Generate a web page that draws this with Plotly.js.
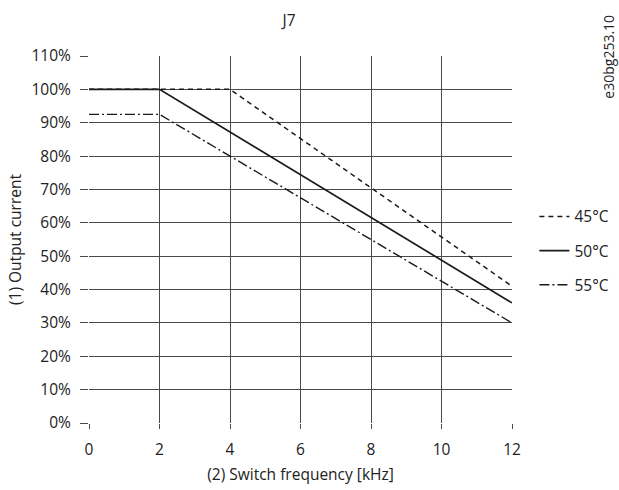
<!DOCTYPE html>
<html>
<head>
<meta charset="utf-8">
<script src="https://cdn.plot.ly/plotly-3.0.1.min.js"></script>
<style>body{margin:0;background:#fff}</style>
</head>
<body>
<div id="chart" style="width:619px;height:490px"></div>
<script>
const seriesNames = ["45°C", "50°C", "55°C"];
const freq45 = [0, 4, 12];
const out45 = [100, 100, 41];
const freq50 = [0, 2, 12];
const out50 = [100, 100, 36];
const freq55 = [0, 2, 12];
const out55 = [92.5, 92.5, 30];
const yTicks = [0,10,20,30,40,50,60,70,80,90,100,110];
const yTickLabels = yTicks.map(v => v + "%");
const xTicks = [0,2,4,6,8,10,12];

const FAM = "Open Sans, sans-serif";
const TXT = "#222";
const FS = 15.5;
const traces = [
  {x: freq45, y: out45, name: seriesNames[0], legendgroup: "a", mode: "lines", line: {color: "#1a1a1a", width: 1.5, dash: "5px,4px"}},
  {x: freq50, y: out50, name: seriesNames[1], legendgroup: "b", mode: "lines", line: {color: "#1a1a1a", width: 1.7, dash: "solid"}},
  {x: freq55, y: out55, name: seriesNames[2], legendgroup: "c", mode: "lines", line: {color: "#1a1a1a", width: 1.4, dash: "10px,3px,2px,3px"}}
];
const layout = {
  width: 619, height: 490,
  margin: {l: 89, r: 107, t: 56, b: 67, autoexpand: false},
  paper_bgcolor: "#fff", plot_bgcolor: "#fff",
  font: {family: FAM, size: FS, color: TXT},
  showlegend: true,
  title: {text: "J7", x: 0.473, xanchor: "center", xref: "paper", y: 0.959, yanchor: "middle",
          font: {family: FAM, size: FS, color: TXT}},
  xaxis: {
    range: [0, 12], tickvals: xTicks, ticktext: xTicks.map(String),
    showgrid: true, gridcolor: "#4a4a4a", gridwidth: 1, zeroline: false,
    ticks: "outside", ticklen: 5, tickcolor: "#4a4a4a", showline: false,
    ticklabelstandoff: 7,
    tickfont: {family: FAM, size: FS, color: TXT},
    title: {text: "(2) Switch frequency [kHz]", standoff: 10, font: {family: FAM, size: FS, color: TXT}},
    fixedrange: true
  },
  yaxis: {
    range: [0, 110], tickvals: yTicks, ticktext: yTickLabels,
    showgrid: true, gridcolor: "#4a4a4a", gridwidth: 1, zeroline: false,
    ticks: "outside", ticklen: 8, tickcolor: "#4a4a4a", showline: false,
    ticklabelstandoff: 6,
    tickfont: {family: FAM, size: FS, color: TXT},
    title: {text: "(1) Output current", standoff: 6, font: {family: FAM, size: FS, color: TXT}},
    fixedrange: true
  },
  legend: {x: 1.053, xanchor: "left", y: 0.469, yanchor: "middle", bgcolor: "rgba(0,0,0,0)",
           font: {family: FAM, size: FS, color: TXT}, tracegroupgap: 11, itemwidth: 30},
  annotations: [
    {text: "e30bg253.10", xref: "paper", yref: "paper", x: 1.226, y: 1.117, xanchor: "center", yanchor: "top",
     textangle: -90, showarrow: false, font: {family: FAM, size: 14, color: TXT}}
  ]
};
Plotly.newPlot("chart", traces, layout, {displayModeBar: false, staticPlot: true});
</script>
</body>
</html>
